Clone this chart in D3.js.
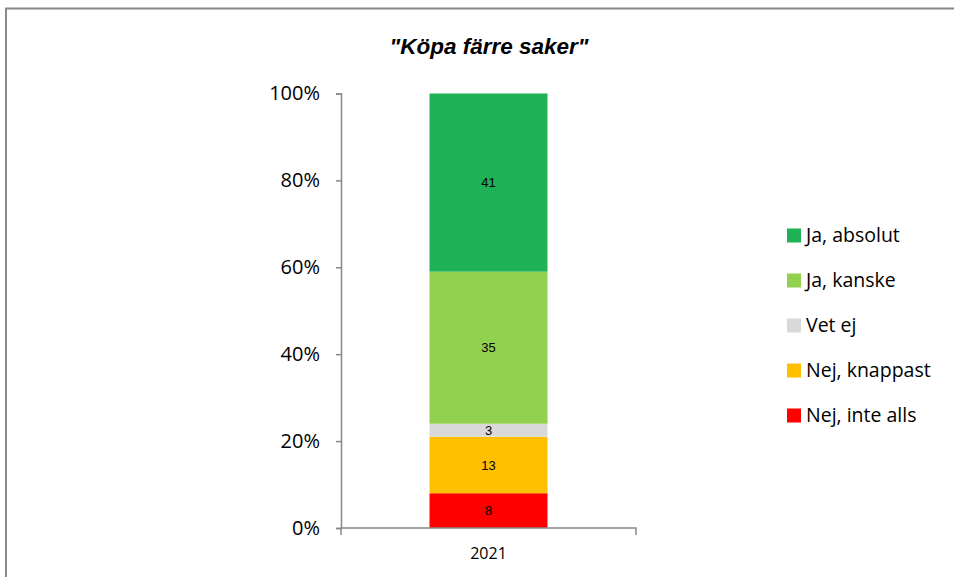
<!DOCTYPE html>
<html>
<head>
<meta charset="utf-8">
<script src="https://cdn.jsdelivr.net/npm/d3@7"></script>
<style>
  body { margin: 0; background: #fff; }
  svg { display: block; font-family: "Liberation Sans", Arial, sans-serif; }
</style>
</head>
<body>
<svg id="chart" width="954" height="577"></svg>
<script>
"use strict";

// data
const title = "\"Köpa färre saker\"";
const years = ["2021"];
const categories = ["Nej, inte alls", "Nej, knappast", "Vet ej", "Ja, kanske", "Ja, absolut"];
const values = [8, 13, 3, 35, 41];
const colors = ["#ff0000", "#ffc000", "#d9d9d9", "#92d050", "#1fb155"];
const yTicks = [0, 20, 40, 60, 80, 100];

const svg = d3.select("svg#chart");

// outer frame (cut off at right/bottom like the original)
svg.append("rect")
  .attr("x", 6).attr("y", 8.5)
  .attr("width", 1000).attr("height", 700)
  .attr("fill", "none")
  .attr("stroke", "#888")
  .attr("stroke-width", 2);

svg.append("text")
  .attr("x", 489).attr("y", 54)
  .attr("text-anchor", "middle")
  .attr("font-size", 22.5)
  .attr("font-weight", "bold")
  .attr("font-style", "italic")
  .text(title);

const y = d3.scaleLinear().domain([0, 100]).range([528, 93.5]);

// stack
let acc = 0;
const segs = values.map((v, i) => {
  const s = { cat: categories[i], v: v, y0: acc, y1: acc + v, color: colors[i] };
  acc += v;
  return s;
});

// bar is 0.4 of the category slot, centred
const slotW = 636 - 341;
const barW = slotW * 0.4;
const cx = 341 + slotW / 2;

const bars = svg.append("g");
bars.selectAll("rect")
  .data(segs)
  .enter()
  .append("rect")
  .attr("x", cx - barW / 2)
  .attr("width", barW)
  .attr("y", d => y(d.y1))
  .attr("height", d => y(d.y0) - y(d.y1))
  .attr("fill", d => d.color);

bars.selectAll("text")
  .data(segs)
  .enter()
  .append("text")
  .attr("x", cx)
  .attr("y", d => y((d.y0 + d.y1) / 2))
  .attr("dy", "0.35em")
  .attr("text-anchor", "middle")
  .attr("font-size", 13)
  .attr("fill", "#000")
  .text(d => d.v);

// y axis
const yAxis = svg.append("g")
  .attr("transform", "translate(341,0)")
  .call(d3.axisLeft(y).tickValues(yTicks).tickFormat(d => d + "%").tickSize(5).tickPadding(16));
yAxis.select(".domain").attr("stroke", "#888").attr("stroke-width", 1.5);
yAxis.selectAll(".tick line").attr("stroke", "#888").attr("stroke-width", 1.5);
yAxis.selectAll(".tick text").attr("font-size", 20).attr("fill", "#000").attr("font-family", "Open Sans, sans-serif");

// x axis: line with end ticks at the slot borders
const xAxis = svg.append("g");
xAxis.append("path")
  .attr("d", "M341,535V528H636V535")
  .attr("fill", "none")
  .attr("stroke", "#888")
  .attr("stroke-width", 1.5);
xAxis.selectAll("text")
  .data(years)
  .enter()
  .append("text")
  .attr("x", cx)
  .attr("y", 559)
  .attr("text-anchor", "middle")
  .attr("font-size", 16)
  .attr("font-family", "Open Sans, sans-serif")
  .text(d => d);

// legend, top entry is the top segment
const legend = svg.append("g").attr("transform", "translate(787,235.5)");
const legItems = segs.slice().reverse();
const leg = legend.selectAll("g")
  .data(legItems)
  .enter()
  .append("g")
  .attr("transform", (d, i) => `translate(0,${i * 45})`);
leg.append("rect")
  .attr("x", 0).attr("y", -7)
  .attr("width", 14).attr("height", 14)
  .attr("fill", d => d.color);
leg.append("text")
  .attr("x", 19)
  .attr("dy", "0.35em")
  .attr("font-size", 19.5)
  .attr("font-family", "Open Sans, sans-serif")
  .text(d => d.cat);
</script>
</body>
</html>
